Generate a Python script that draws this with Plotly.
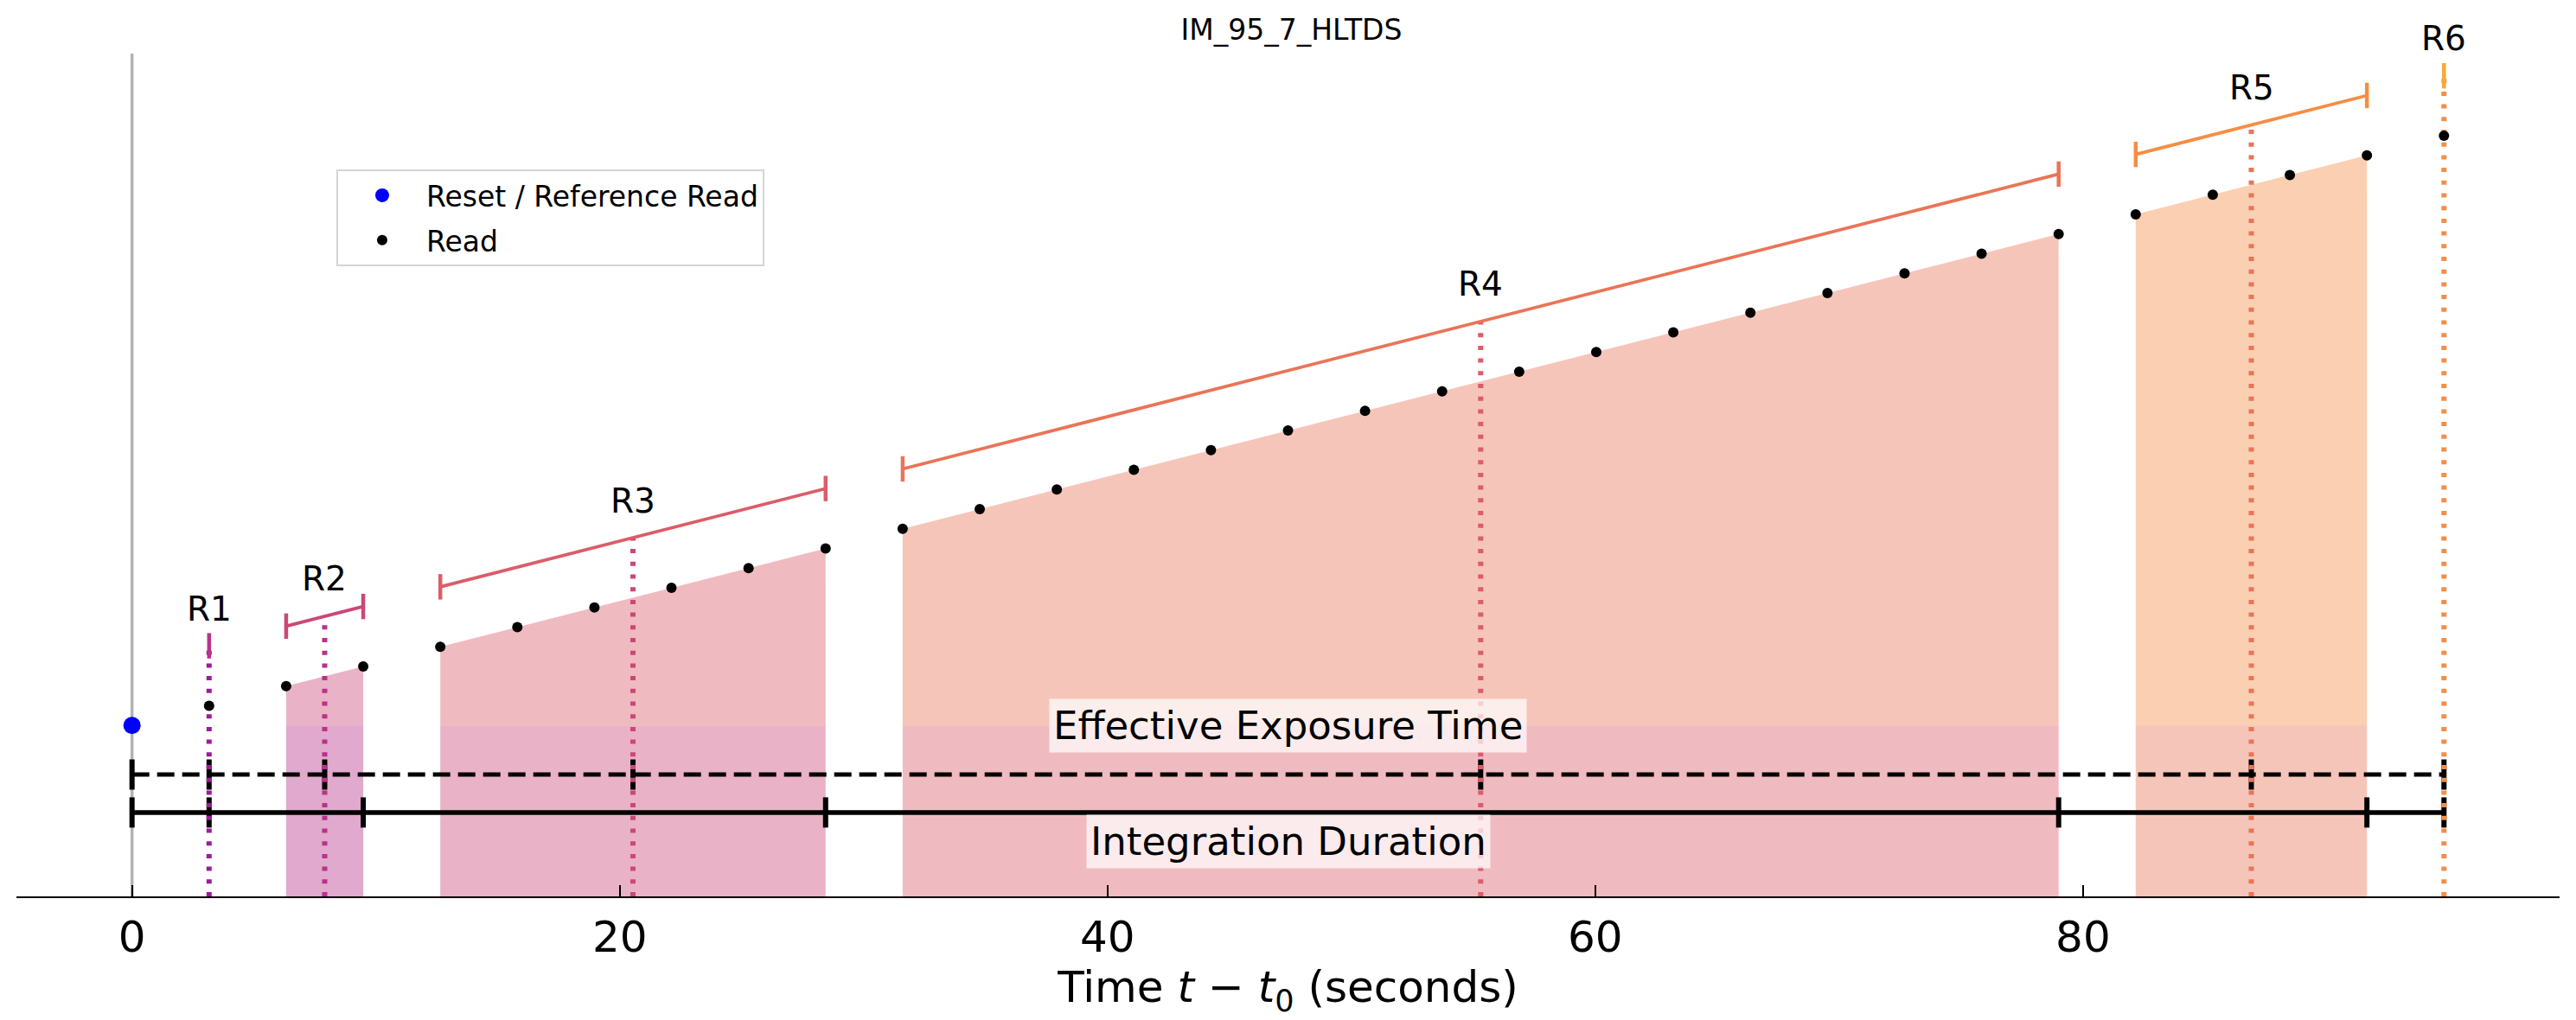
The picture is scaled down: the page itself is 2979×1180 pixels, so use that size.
import plotly.graph_objects as go

# ---- data ----
chart_title = 'IM_95_7_HLTDS'
reset_time = 0.0
reset_level = 0.0
read_times = [3.16, 6.32, 9.48, 12.64, 15.80, 18.96, 22.12, 25.28, 28.44, 31.60,
              34.76, 37.92, 41.08, 44.24, 47.40, 50.56, 53.72, 56.88, 60.04, 63.20,
              66.36, 69.52, 72.68, 75.84, 79.00, 82.16, 85.32, 88.48, 91.64, 94.80]
read_levels = [1, 2, 3, 4, 5, 6, 7, 8, 9, 10,
               11, 12, 13, 14, 15, 16, 17, 18, 19, 20,
               21, 22, 23, 24, 25, 26, 27, 28, 29, 30]
resultant_labels = ['R1', 'R2', 'R3', 'R4', 'R5', 'R6']
resultant_sizes = [1, 2, 6, 16, 4, 1]
colors = ['#a01a9c', '#b83289', '#cc4778', '#dc5c68', '#ea7457', '#f68d45', '#fca636']

bracket_offset = 3.05
eff_level = -2.5
int_level = -4.43
eff_text_level = 0.0
int_text_level = -5.9
y_floor = -8.7
y_top = 34.18

FONT = 'DejaVu Sans'


def rgba(hx, a):
    hx = hx.lstrip('#')
    r, g, b = int(hx[0:2], 16), int(hx[2:4], 16), int(hx[4:6], 16)
    return f'rgba({r},{g},{b},{a})'


# split reads into resultants
groups = []
start = 0
for n in resultant_sizes:
    groups.append((read_times[start:start + n], read_levels[start:start + n]))
    start += n

mean_times = [sum(t) / len(t) for t, _ in groups]
mean_levels = [sum(v) / len(v) for _, v in groups]
end_times = [t[-1] for t, _ in groups]

fig = go.Figure()

# shaded areas
for i, (ts, vs) in enumerate(groups):
    if len(ts) < 2:
        continue
    fig.add_trace(go.Scatter(
        x=[ts[0], ts[-1], ts[-1], ts[0]], y=[y_floor, y_floor, reset_level, reset_level],
        fill='toself', fillcolor=rgba(colors[i], 0.42), line=dict(width=0),
        mode='lines', showlegend=False, hoverinfo='skip'))
    fig.add_trace(go.Scatter(
        x=ts + [ts[-1], ts[0]], y=vs + [reset_level, reset_level],
        fill='toself', fillcolor=rgba(colors[i + 1], 0.42), line=dict(width=0),
        mode='lines', showlegend=False, hoverinfo='skip'))

# effective exposure / integration duration bars
fig.add_trace(go.Scatter(
    x=[reset_time] + mean_times, y=[eff_level] * (len(mean_times) + 1),
    mode='lines+markers', line=dict(color='black', width=5, dash='20px,9px'),
    marker=dict(symbol='line-ns', size=25, line=dict(color='black', width=6)),
    showlegend=False, hoverinfo='skip'))
fig.add_trace(go.Scatter(
    x=[reset_time] + end_times, y=[int_level] * (len(end_times) + 1),
    mode='lines+markers', line=dict(color='black', width=5.5),
    marker=dict(symbol='line-ns', size=25, line=dict(color='black', width=6)),
    showlegend=False, hoverinfo='skip'))

# dotted mean-time lines
for i in range(len(groups)):
    fig.add_trace(go.Scatter(
        x=[mean_times[i], mean_times[i]], y=[y_floor, mean_levels[i] + bracket_offset],
        mode='lines', line=dict(color=colors[i], width=6, dash='5px,9.7px'),
        showlegend=False, hoverinfo='skip'))

# resultant brackets
for i, (ts, vs) in enumerate(groups):
    fig.add_trace(go.Scatter(
        x=[ts[0], ts[-1]] if len(ts) > 1 else [ts[0]],
        y=[vs[0] + bracket_offset, vs[-1] + bracket_offset] if len(ts) > 1 else [vs[0] + bracket_offset],
        mode='lines+markers', line=dict(color=colors[i + 1], width=3.7),
        marker=dict(symbol='line-ns', size=21, line=dict(color=colors[i + 1], width=4.5)),
        showlegend=False, hoverinfo='skip'))

# reads
fig.add_trace(go.Scatter(
    x=[reset_time], y=[reset_level], mode='markers', name='Reset / Reference Read',
    legendgroup='a', marker=dict(color='blue', size=20)))
fig.add_trace(go.Scatter(
    x=read_times, y=read_levels, mode='markers', name='Read',
    legendgroup='b', marker=dict(color='black', size=12)))

fig.add_vline(x=reset_time, line=dict(color='#b3b3b3', width=3.5), layer='below')

annotations = []
for i, lab in enumerate(resultant_labels):
    annotations.append(dict(x=mean_times[i], y=mean_levels[i] + bracket_offset, text=lab,
                            showarrow=False, yshift=43, font=dict(size=39, color='black')))
annotations.append(dict(x=end_times[-1] / 2, y=eff_text_level, text='Effective Exposure Time',
                        showarrow=False, bgcolor='rgba(255,255,255,0.7)', borderpad=4,
                        font=dict(size=45, color='black')))
annotations.append(dict(x=end_times[-1] / 2, y=int_text_level, text='Integration Duration',
                        showarrow=False, bgcolor='rgba(255,255,255,0.7)', borderpad=4,
                        font=dict(size=45, color='black')))

# the page body adds an 8px offset, so the figure is 8px smaller and margins shifted
fig.update_layout(
    width=2971, height=1172,
    margin=dict(l=11, r=19, t=54, b=143),
    paper_bgcolor='white', plot_bgcolor='white',
    font=dict(family=FONT, color='black'),
    title=dict(text=chart_title, x=0.5, xanchor='center', y=1 - 26 / 1172, yanchor='middle',
               yref='container', font=dict(size=33)),
    annotations=annotations,
    legend=dict(x=0.1258, y=0.8626, xanchor='left', yanchor='top',
                bgcolor='white', bordercolor='#d5d5d5', borderwidth=2,
                font=dict(size=33), itemwidth=92, tracegroupgap=6),
    # upper half of the ticks + labels
    xaxis=dict(range=[-4.74, 99.54], showgrid=False, zeroline=False,
               showline=True, linecolor='black', linewidth=2.2,
               ticks='inside', ticklen=13, tickwidth=2.2, tickcolor='black',
               tick0=0, dtick=20, tickfont=dict(size=50), ticklabelstandoff=2,
               title=dict(text='Time <i>t</i> − <i>t</i><sub>0</sub> (seconds)',
                          font=dict(size=50), standoff=0)),
    # lower half of the ticks
    xaxis2=dict(range=[-4.74, 99.54], overlaying='x', anchor='y', side='bottom',
                showgrid=False, zeroline=False, showline=False,
                ticks='outside', ticklen=14, tickwidth=2.2, tickcolor='black',
                tick0=0, dtick=20, showticklabels=False),
    yaxis=dict(range=[y_floor, y_top], visible=False),
)

fig.write_html('out.html')
